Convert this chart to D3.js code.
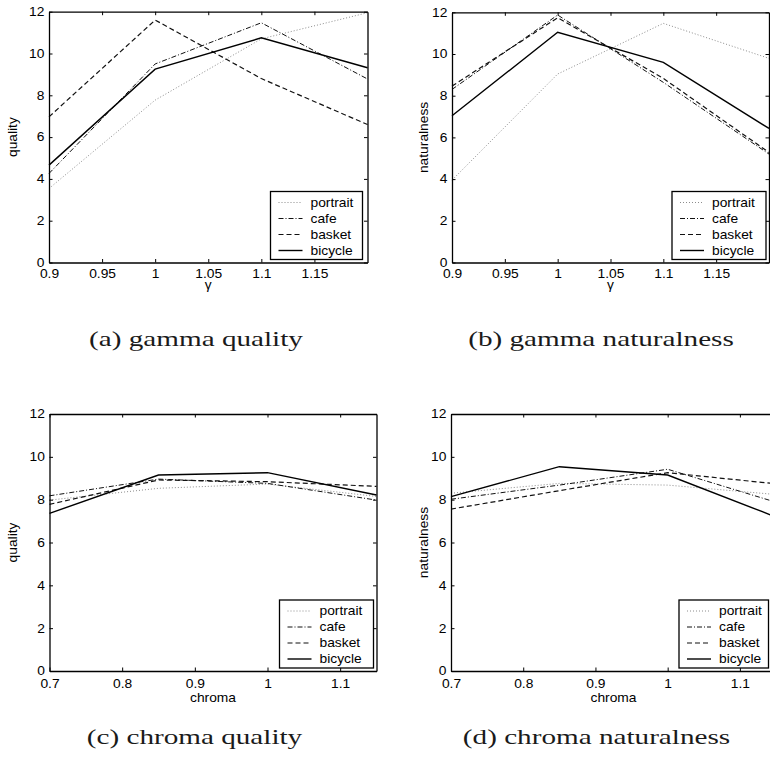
<!DOCTYPE html>
<html>
<head>
<meta charset="utf-8">
<script src="https://cdn.jsdelivr.net/npm/d3@7"></script>
<style>
  html, body { margin: 0; padding: 0; background: #fff; }
  svg { display: block; }
</style>
</head>
<body>
<svg id="fig" width="770" height="761"></svg>
<script>
// ---- data ---------------------------------------------------------------
const seriesNames = ["portrait", "cafe", "basket", "bicycle"];

const yTicks = [0, 2, 4, 6, 8, 10, 12];

const gammaX = [0.9, 1.0, 1.1, 1.2];
const gammaTicks = [0.9, 0.95, 1, 1.05, 1.1, 1.15];

const chromaX = [0.7, 0.85, 1.0, 1.15];
const chromaTicks = [0.7, 0.8, 0.9, 1, 1.1];

// rows follow seriesNames: portrait, cafe, basket, bicycle
const gammaQuality = [
  [3.54, 7.77, 10.7, 11.95],
  [4.26, 9.50, 11.47, 8.78],
  [6.97, 11.6, 8.80, 6.60],
  [4.66, 9.25, 10.75, 9.32]
];
const gammaNaturalness = [
  [3.95, 9.04, 11.47, 9.79],
  [8.30, 11.87, 8.64, 5.20],
  [8.46, 11.74, 8.83, 5.28],
  [7.04, 11.04, 9.60, 6.43]
];
const chromaQuality = [
  [7.98, 8.53, 8.73, 8.15],
  [8.18, 8.96, 8.76, 7.98],
  [7.78, 8.92, 8.84, 8.62],
  [7.36, 9.15, 9.26, 8.22]
];
const chromaNaturalness = [
  [8.30, 8.76, 8.68, 8.24],
  [8.02, 8.68, 9.42, 7.88],
  [7.56, 8.42, 9.26, 8.74],
  [8.14, 9.54, 9.15, 7.19]
];

const captions = ["(a) gamma quality", "(b) gamma naturalness",
                  "(c) chroma quality", "(d) chroma naturalness"];

// ---- styles -------------------------------------------------------------
const lineStyles = {
  portrait: { stroke: "#8c8c8c", width: 1.0, dash: "1,2" },
  cafe:     { stroke: "#111",    width: 1.0, dash: "5,2,1,2" },
  basket:   { stroke: "#111",    width: 1.2, dash: "5,3" },
  bicycle:  { stroke: "#000",    width: 1.4, dash: null }
};
const SANS = "'Liberation Sans', Arial, Helvetica, sans-serif";
const SERIF = "'Liberation Serif', 'Times New Roman', serif";
const TEXT_SX = 1.15;   // the sans text is set slightly wide
const CAP_SX = 1.39;    // caption text is set wide
const TICK = 3.5;       // inward tick length

// ---- layout -------------------------------------------------------------
const panels = [
  { xs: gammaX, ys: gammaQuality, ticks: gammaTicks, xDomain: [0.9, 1.2],
    left: 49, right: 367.5, top: 11.7, bottom: 262.5, legendW: 92,
    xLabel: "\u03b3", yLabel: "quality", xPad: 6.5, xLabelY: 26.5, yLabelX: 17,
    cap: captions[0], capX: 196, capY: 346 },
  { xs: gammaX, ys: gammaNaturalness, ticks: gammaTicks, xDomain: [0.9, 1.2],
    left: 452, right: 769, top: 12.3, bottom: 262.5, legendW: 94,
    xLabel: "\u03b3", yLabel: "naturalness", xPad: 6.5, xLabelY: 26.5, yLabelX: 428,
    cap: captions[1], capX: 601, capY: 346 },
  { xs: chromaX, ys: chromaQuality, ticks: chromaTicks, xDomain: [0.7, 1.15],
    left: 49.5, right: 376.5, top: 414, bottom: 671, legendW: 94,
    xLabel: "chroma", yLabel: "quality", xPad: 8.5, xLabelY: 31, yLabelX: 17,
    cap: captions[2], capX: 194.5, capY: 744 },
  { xs: chromaX, ys: chromaNaturalness, ticks: chromaTicks, xDomain: [0.7, 1.15],
    left: 451, right: 776, top: 414, bottom: 671, legendW: 89.5,
    xLabel: "chroma", yLabel: "naturalness", xPad: 8.5, xLabelY: 31, yLabelX: 428,
    cap: captions[3], capX: 596.5, capY: 744 }
];

const svg = d3.select("#fig");

function styleAxis(sel) {
  sel.attr("font-family", SANS).attr("font-size", 12);
  sel.select(".domain").attr("stroke", "#000").attr("stroke-width", 1.3);
  sel.selectAll(".tick line").attr("stroke", "#000").attr("stroke-width", 1);
  sel.selectAll(".tick text").attr("fill", "#000")
     .attr("transform", `scale(${TEXT_SX},1)`);
}

function drawPanel(p) {
  const x = d3.scaleLinear().domain(p.xDomain).range([p.left, p.right]);
  const y = d3.scaleLinear().domain([0, 12]).range([p.bottom, p.top]);
  const g = svg.append("g");

  // series lines
  const line = d3.line().x((d, i) => x(p.xs[i])).y(d => y(d));
  seriesNames.forEach((name, k) => {
    const s = lineStyles[name];
    g.append("path")
      .datum(p.ys[k])
      .attr("d", line)
      .attr("fill", "none")
      .attr("stroke", s.stroke)
      .attr("stroke-width", s.width)
      .attr("stroke-dasharray", s.dash)
      .attr("stroke-linejoin", "miter");
  });

  // box axes with inward ticks on all four sides
  g.append("g").attr("transform", `translate(0,${p.bottom})`)
    .call(d3.axisBottom(x).tickValues(p.ticks).tickFormat(d3.format("~g"))
      .tickSizeInner(-TICK).tickSizeOuter(0).tickPadding(p.xPad))
    .call(styleAxis);
  g.append("g").attr("transform", `translate(0,${p.top})`)
    .call(d3.axisTop(x).tickValues(p.ticks).tickFormat("")
      .tickSizeInner(-TICK).tickSizeOuter(0))
    .call(styleAxis);
  g.append("g").attr("transform", `translate(${p.left},0)`)
    .call(d3.axisLeft(y).tickValues(yTicks).tickFormat(d3.format("d"))
      .tickSizeInner(-TICK).tickSizeOuter(0).tickPadding(4))
    .call(styleAxis);
  g.append("g").attr("transform", `translate(${p.right},0)`)
    .call(d3.axisRight(y).tickValues(yTicks).tickFormat("")
      .tickSizeInner(-TICK).tickSizeOuter(0))
    .call(styleAxis);

  // axis titles
  g.append("text")
    .attr("transform", `translate(${(p.left + p.right) / 2},${p.bottom + p.xLabelY}) scale(${TEXT_SX},1)`)
    .attr("text-anchor", "middle")
    .attr("font-family", SANS).attr("font-size", 12).attr("fill", "#000")
    .text(p.xLabel);
  g.append("text")
    .attr("transform", `translate(${p.yLabelX},${(p.top + p.bottom) / 2}) rotate(-90) scale(${TEXT_SX},1)`)
    .attr("text-anchor", "middle")
    .attr("font-family", SANS).attr("font-size", 12).attr("fill", "#000")
    .text(p.yLabel);

  // legend in the lower right corner
  const lw = p.legendW, lh = 68;
  const lg = g.append("g")
    .attr("transform", `translate(${p.right - 97},${p.bottom - 71})`);
  lg.append("rect").attr("width", lw).attr("height", lh)
    .attr("fill", "#fff").attr("stroke", "#000").attr("stroke-width", 1.3);
  seriesNames.forEach((name, k) => {
    const s = lineStyles[name];
    const ry = 11 + 16 * k;
    lg.append("line")
      .attr("x1", 8).attr("x2", 32).attr("y1", ry).attr("y2", ry)
      .attr("stroke", s.stroke).attr("stroke-width", s.width)
      .attr("stroke-dasharray", s.dash);
    lg.append("text")
      .attr("transform", `translate(40,${ry}) scale(${TEXT_SX},1)`)
      .attr("dy", "0.35em")
      .attr("font-family", SANS).attr("font-size", 12).attr("fill", "#000")
      .text(name);
  });

  // subfigure caption
  svg.append("text")
    .attr("transform", `translate(${p.capX},${p.capY}) scale(${CAP_SX},1)`)
    .attr("text-anchor", "middle")
    .attr("font-family", SERIF).attr("font-size", 21).attr("fill", "#1a1a1a")
    .text(p.cap);
}

panels.forEach(drawPanel);
</script>
</body>
</html>
